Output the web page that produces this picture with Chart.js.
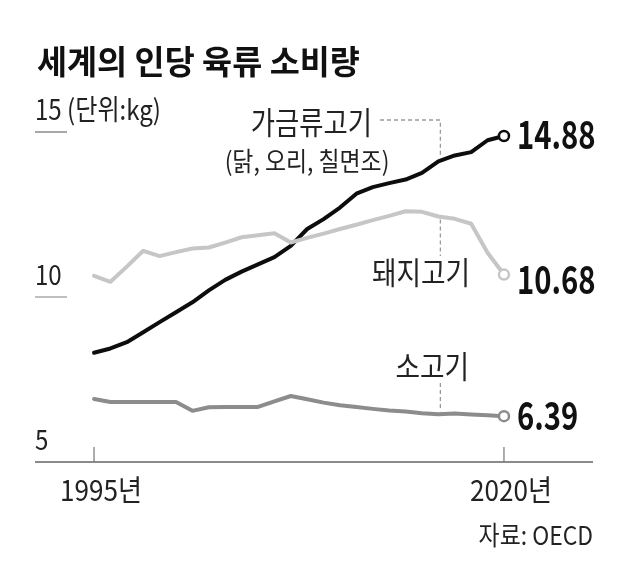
<!DOCTYPE html>
<html>
<head>
<meta charset="utf-8">
<script src="https://cdn.jsdelivr.net/npm/chart.js@4.4.1/dist/chart.umd.min.js"></script>
<style>
    html, body { margin: 0; padding: 0; background: #fff; }
    #wrap { width: 630px; height: 573px; position: relative; }
</style>
</head>
<body>
<div id="wrap"><canvas id="meatChart" width="630" height="573"></canvas></div>
<script>
// 1995 ~ 2020, 인당 소비량 (kg)
const years = [1995, 1996, 1997, 1998, 1999, 2000, 2001, 2002, 2003, 2004, 2005, 2006, 2007,
    2008, 2009, 2010, 2011, 2012, 2013, 2014, 2015, 2016, 2017, 2018, 2019, 2020];
const poultry = [8.31, 8.44, 8.63, 8.93, 9.24, 9.54, 9.84, 10.20, 10.52, 10.77, 10.99, 11.21, 11.55,
    12.06, 12.36, 12.71, 13.13, 13.33, 13.45, 13.56, 13.76, 14.11, 14.29, 14.39, 14.75, 14.88];
const pork = [10.64, 10.46, 10.92, 11.40, 11.24, 11.36, 11.47, 11.50, 11.65, 11.81, 11.87, 11.93, 11.65,
    11.79, 11.92, 12.06, 12.19, 12.33, 12.46, 12.60, 12.58, 12.44, 12.37, 12.22, 11.34, 10.68];
const beef = [6.91, 6.82, 6.82, 6.82, 6.82, 6.82, 6.55, 6.66, 6.67, 6.67, 6.67, 6.84, 7.00,
    6.90, 6.80, 6.72, 6.67, 6.61, 6.56, 6.53, 6.48, 6.45, 6.47, 6.44, 6.42, 6.39];

const yTicks = [5, 10, 15];
const xTicks = [1995, 2020];
const leaderYear = 2016;

const FONT = '"Noto Sans CJK KR", "Noto Sans", sans-serif';

function toXY(values) {
    return values.map((v, i) => ({x: years[i], y: v}));
}

function lastOnly(r) {
    return ctx => ctx.dataIndex === years.length - 1 ? r : 0;
}

function text(ctx, str, x, y, size, weight, color, align, sx) {
    ctx.save();
    ctx.translate(x, y);
    ctx.scale(sx, 1);
    ctx.font = weight + ' ' + size + 'px ' + FONT;
    ctx.fillStyle = color;
    ctx.textAlign = align;
    ctx.textBaseline = 'middle';
    ctx.fillText(str, 0, 0);
    ctx.restore();
}

function dashed(ctx, pts) {
    ctx.save();
    ctx.strokeStyle = '#9a9a9a';
    ctx.lineWidth = 1.3;
    ctx.setLineDash([4, 3]);
    ctx.beginPath();
    ctx.moveTo(pts[0][0], pts[0][1]);
    for (let i = 1; i < pts.length; i++) ctx.lineTo(pts[i][0], pts[i][1]);
    ctx.stroke();
    ctx.restore();
}

const decorPlugin = {
    id: 'decor',
    beforeDatasetsDraw(chart) {
        const {ctx, chartArea, scales: {x, y}} = chart;
        // 축선 (값 5)
        ctx.save();
        ctx.strokeStyle = '#8a8a8a';
        ctx.lineWidth = 2;
        ctx.beginPath();
        ctx.moveTo(chartArea.left, y.getPixelForValue(5));
        ctx.lineTo(chartArea.right, y.getPixelForValue(5));
        ctx.stroke();

        // 눈금 밑줄
        yTicks.filter(v => v !== 5).forEach(v => {
            ctx.strokeStyle = v === 15 ? '#8a8a8a' : '#aaaaaa';
            ctx.lineWidth = 1.5;
            ctx.beginPath();
            ctx.moveTo(chartArea.left, y.getPixelForValue(v));
            ctx.lineTo(chartArea.left + 32, y.getPixelForValue(v));
            ctx.stroke();
        });

        // x 눈금
        ctx.strokeStyle = '#777';
        ctx.lineWidth = 1.2;
        xTicks.forEach(t => {
            const px = x.getPixelForValue(t);
            ctx.beginPath();
            ctx.moveTo(px, y.getPixelForValue(5) - 15);
            ctx.lineTo(px, y.getPixelForValue(5));
            ctx.stroke();
        });
        ctx.restore();

        // 지시선
        const li = years.indexOf(leaderYear);
        const lx = x.getPixelForValue(leaderYear) + 2;
        dashed(ctx, [[380, 120], [lx, 120], [lx, y.getPixelForValue(poultry[li]) - 4]]);
        dashed(ctx, [[lx, y.getPixelForValue(pork[li]) + 3], [lx, 256]]);
        dashed(ctx, [[lx, 383], [lx, y.getPixelForValue(beef[li]) - 3]]);
    },
    afterDatasetsDraw(chart) {
        const {ctx, chartArea, scales: {x, y}} = chart;

        text(ctx, '세계의 인당 육류 소비량', 37, 61, 33, 'bold', '#111', 'left', 0.99);

        yTicks.forEach(v => {
            const label = v === 15 ? '15 (단위:kg)' : String(v);
            text(ctx, label, chartArea.left, y.getPixelForValue(v) - 23, 28, 'normal', '#222', 'left', 0.86);
        });

        xTicks.forEach(t => {
            text(ctx, t + '년', x.getPixelForValue(t) + 7, 490, 29, 'normal', '#222', 'center', 0.9);
        });

        text(ctx, '자료: OECD', chartArea.right, 535, 26, 'normal', '#222', 'right', 0.88);

        text(ctx, '가금류고기', 372, 122, 31, 'normal', '#222', 'right', 0.85);
        text(ctx, '(닭, 오리, 칠면조)', 307, 161, 26, 'normal', '#222', 'center', 0.88);
        text(ctx, '돼지고기', 470, 272, 31, 'normal', '#222', 'right', 0.86);
        text(ctx, '소고기', 469, 366, 31, 'normal', '#222', 'right', 0.86);

        const last = years.length - 1;
        const lx = x.getPixelForValue(years[last]) + 13;
        [[poultry, -2], [pork, 5], [beef, -1]].forEach(([s, dy]) => {
            text(ctx, s[last].toFixed(2), lx, y.getPixelForValue(s[last]) + dy, 39, 'bold', '#111', 'left', 0.75);
        });
    }
};

function series(values, color) {
    return {
        data: toXY(values),
        borderColor: color,
        borderWidth: 4,
        tension: 0,
        borderJoinStyle: 'round',
        borderCapStyle: 'round',
        pointRadius: lastOnly(5),
        pointBorderWidth: 2.5,
        pointBackgroundColor: '#fff',
        pointBorderColor: color,
        fill: false
    };
}

new Chart(document.getElementById('meatChart'), {
    type: 'line',
    data: {
        datasets: [
            series(beef, '#8c8c8c'),
            series(pork, '#c6c6c6'),
            series(poultry, '#0d0d0d')
        ]
    },
    options: {
        responsive: false,
        animation: false,
        devicePixelRatio: 1,
        layout: {padding: {left: 35, right: 37, top: 99, bottom: 111}},
        scales: {
            x: {type: 'linear', min: 1991.4, max: 2025.43, display: false},
            y: {min: 5, max: 16, display: false}
        },
        plugins: {
            legend: {display: false},
            tooltip: {enabled: false},
            title: {display: false}
        },
        elements: {line: {clip: false}}
    },
    plugins: [decorPlugin]
});
</script>
</body>
</html>
